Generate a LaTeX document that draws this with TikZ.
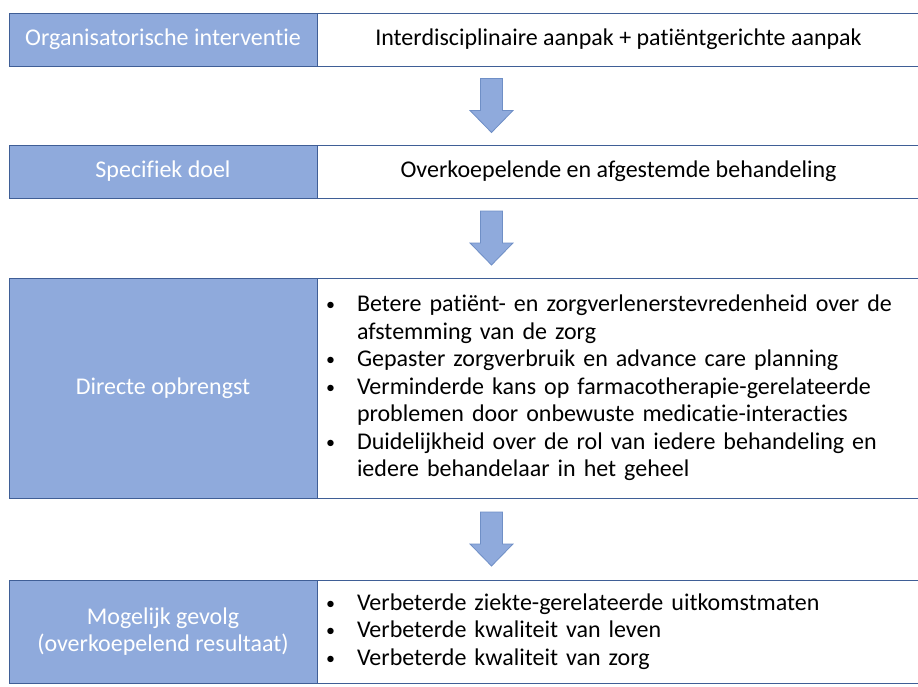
\documentclass[tikz,border=0pt]{standalone}
\usepackage{fontspec}
\setmainfont{Carlito}[Ligatures=NoCommon]
\usetikzlibrary{positioning,calc}
\definecolor{kopblauw}{HTML}{8FAADC}
\definecolor{randblauw}{HTML}{3F5E96}
\definecolor{pijlrand}{HTML}{6F8FC6}
\newcommand{\punt}[1]{\hangindent=27pt\hangafter=1\noindent
  \makebox[27pt][l]{\hspace{-4pt}\raisebox{1pt}{\fontsize{18}{18}\selectfont\textbullet}}#1\par}

\begin{document}
\begin{tikzpicture}[
  x=1pt, y=-1pt,
  font=\fontsize{24}{27.5}\selectfont,
  kop/.style={draw=randblauw, fill=kopblauw, text=white, line width=0.9pt,
              minimum width=308pt, align=center, inner sep=0pt, outer sep=0pt},
  inhoud/.style={draw=randblauw, fill=white, line width=0.9pt,
                 minimum width=603pt, inner sep=0pt, outer sep=0pt},
  lijst/.style={inhoud, text width=577pt, inner xsep=13pt},
  pics/pijl/.style={code={
    \draw[fill=kopblauw, draw=pijlrand, line width=0.8pt, line join=miter]
      (-11,-27) -- (-11,5) -- (-21.5,5) -- (0,27) -- (21.5,5) -- (11,5) -- (11,-27) -- cycle;
  }},
]
\useasboundingbox (0,0) rectangle (918,686);

% Row 1: the intervention itself.
\node[kop, minimum height=53pt] (kop1) at (163,39.5) {Organisatorische interventie};
\node[inhoud, minimum height=53pt, right=0pt of kop1] (inh1) {Interdisciplinaire aanpak + patiëntgerichte aanpak};

% Row 2: what it aims at.
\node[kop, minimum height=53pt] (kop2) at (163,171.5) {Specifiek doel};
\node[inhoud, minimum height=53pt, right=0pt of kop2] (inh2) {Overkoepelende en afgestemde behandeling};

% Row 3: the direct yield, as a list.
\node[kop, minimum height=220pt] (kop3) at (163,388) {Directe opbrengst};
\node[lijst, minimum height=220pt, right=0pt of kop3] (inh3) {\raggedright
  \punt{Betere patiënt- en zorgverlenerstevredenheid over de\newline afstemming van de zorg}
  \punt{Gepaster zorgverbruik en advance care planning}
  \punt{Verminderde kans op farmacotherapie-gerelateerde\newline problemen door onbewuste medicatie-interacties}
  \punt{Duidelijkheid over de rol van iedere behandeling en\newline iedere behandelaar in het geheel}};

% Row 4: the possible outcome.
\node[kop, minimum height=103pt] (kop4) at (163,631.5) {Mogelijk gevolg\\(overkoepelend resultaat)};
\node[lijst, minimum height=103pt, right=0pt of kop4] (inh4) {\raggedright
  \punt{Verbeterde ziekte-gerelateerde uitkomstmaten}
  \punt{Verbeterde kwaliteit van leven}
  \punt{Verbeterde kwaliteit van zorg}};

% Block arrows between the rows.
\pic at ($(inh1.south)!0.5!(inh2.north) + (-127,0)$) {pijl};
\pic at ($(inh2.south)!0.5!(inh3.north) + (-127,0)$) {pijl};
\pic at ($(inh3.south)!0.5!(inh4.north) + (-127,0)$) {pijl};
\end{tikzpicture}
\end{document}
